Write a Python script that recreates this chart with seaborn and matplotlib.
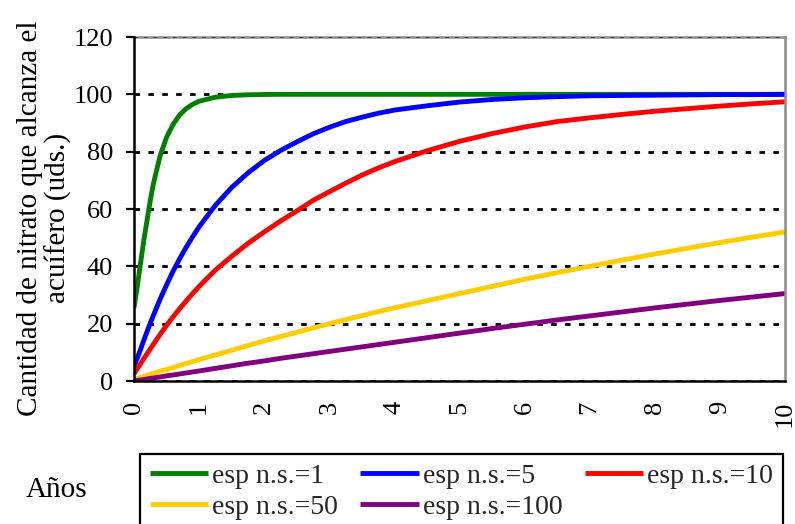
import matplotlib
matplotlib.use("Agg")
import matplotlib.pyplot as plt
import seaborn as sns
import pandas as pd

# Time axis (years) shared by every series
years = [0, 0.05, 0.1, 0.15, 0.2, 0.25, 0.3, 0.4, 0.5, 0.6, 0.7, 0.8, 0.9,
         1.0, 1.25, 1.5, 1.75, 2.0, 2.25, 2.5, 2.75, 3.0, 3.25, 3.5, 3.75,
         4.0, 4.5, 5.0, 5.5, 6.0, 6.5, 7.0, 7.5, 8.0, 8.5, 9.0, 9.5, 10.0]

# Nitrate reaching the aquifer for each unsaturated-zone thickness
esp_1 = [25.5, 33, 41, 49, 56, 63, 69, 78.5, 85, 89.5, 92.8, 95, 96.5,
         97.6, 99, 99.6, 99.85, 99.95, 100, 100, 100, 100, 100, 100, 100,
         100, 100, 100, 100, 100, 100, 100, 100, 100, 100, 100, 100, 100]
esp_5 = [5, 8, 11, 14.2, 17.2, 20.2, 23, 28.5, 33.5, 38.3, 42.6, 46.6, 50.3,
         53.8, 61.3, 67.5, 72.6, 76.9, 80.4, 83.4, 86.2, 88.5, 90.5, 92,
         93.4, 94.5, 96, 97.3, 98.2, 98.8, 99.2, 99.5, 99.6, 99.7, 99.8,
         99.9, 99.9, 100]
esp_10 = [2.5, 4.3, 6, 7.8, 9.5, 11.2, 12.9, 16.2, 19.4, 22.4, 25.2, 27.9,
          30.5, 33, 38.7, 43.5, 48, 52, 55.8, 59.3, 63, 66, 69, 71.8, 74.3,
          76.5, 80.3, 83.6, 86.3, 88.6, 90.5, 91.8, 93, 94.1, 95, 95.9, 96.7,
          97.4]
esp_50 = [0.5, 0.9, 1.2, 1.6, 2, 2.3, 2.7, 3.4, 4, 4.7, 5.4, 6.1, 6.8, 7.5,
          9.1, 10.7, 12.4, 14, 15.5, 17, 18.5, 20, 21.4, 22.8, 24.2, 25.5,
          28, 30.5, 33, 35.5, 37.8, 40, 42.2, 44.3, 46.3, 48.3, 50.2, 52]
esp_100 = [0, 0.2, 0.35, 0.5, 0.7, 0.9, 1.05, 1.4, 1.8, 2.1, 2.45, 2.8, 3.15,
           3.5, 4.4, 5.3, 6.2, 7, 7.9, 8.7, 9.5, 10.3, 11.1, 11.9, 12.7,
           13.5, 15.1, 16.7, 18.3, 19.8, 21.3, 22.7, 24.1, 25.5, 26.8, 28.1,
           29.3, 30.5]

series_names = ["esp n.s.=1", "esp n.s.=5", "esp n.s.=10", "esp n.s.=50",
                "esp n.s.=100"]
series_values = [esp_1, esp_5, esp_10, esp_50, esp_100]
series_colors = ["#008000", "#0000FF", "#FF0000", "#FFCC00", "#800080"]

y_ticks = [0, 20, 40, 60, 80, 100, 120]
x_ticks = [0, 1, 2, 3, 4, 5, 6, 7, 8, 9, 10]

df = pd.concat(
    [pd.DataFrame({"t": years, "v": vals, "serie": name})
     for name, vals in zip(series_names, series_values)],
    ignore_index=True,
)

sns.set_theme(style="white")
plt.rcParams["font.family"] = ["Liberation Serif", "DejaVu Serif"]

fig = plt.figure(figsize=(7.95, 5.24), dpi=100)
ax = fig.add_axes([134 / 795, 143 / 524, 651 / 795, 344 / 524])

sns.lineplot(data=df, x="t", y="v", hue="serie", hue_order=series_names,
             palette=series_colors, linewidth=3.5, legend=False, ax=ax,
             sort=False, estimator=None)
for line in ax.get_lines():
    line.set_solid_capstyle("butt")
    line.set_solid_joinstyle("round")

ax.set_xlim(0, 10)
ax.set_ylim(0, 120)
ax.set_xticks(x_ticks)
ax.set_yticks(y_ticks)
ax.set_xticklabels([str(v) for v in x_ticks], rotation=90, fontsize=19)
ax.set_yticklabels([str(v) for v in y_ticks], fontsize=19)
ax.tick_params(axis="x", length=0, pad=14, colors="black")
ax.tick_params(axis="y", direction="out", length=6, width=1.6, pad=9,
               colors="black", left=True)

# Dotted horizontal grid
ax.grid(False)
ax.yaxis.grid(True, color="black", linewidth=2.0, linestyle=(0, (2, 3)))
ax.set_axisbelow(True)
grid_lines = ax.get_ygridlines()
grid_lines[-1].set_color("#444444")
grid_lines[-1].set_linewidth(1.4)

for side in ("left", "bottom"):
    ax.spines[side].set_color("black")
    ax.spines[side].set_linewidth(1.8)
for side in ("top", "right"):
    ax.spines[side].set_color("#8c8c8c")
    ax.spines[side].set_linewidth(1.8)
ax.spines["top"].set_zorder(0.4)

ax.set_xlabel("")
ax.set_ylabel("Cantidad de nitrato que alcanza el\nacuífero (uds.)",
              fontsize=21, linespacing=1.1, color="black")
ax.yaxis.set_label_coords(-0.095, 0.474)

fig.text(57 / 795, 1 - 490 / 524, "Años", ha="center", va="center",
         fontsize=21, color="black")

# Legend laid out row by row: matplotlib fills columns first
handles = ax.get_lines()[:len(series_names)]
order = [0, 3, 1, 4, 2]
leg = fig.legend([handles[i] for i in order],
                 [series_names[i] for i in order],
                 loc="upper left",
                 bbox_to_anchor=(140 / 795, 1 - 454 / 524), ncol=3,
                 fontsize=20, handlelength=2.1, handletextpad=0.15,
                 columnspacing=0.8, labelspacing=0.2, borderpad=0.35,
                 borderaxespad=0, frameon=True, fancybox=False,
                 edgecolor="black", framealpha=1)
leg.get_frame().set_linewidth(1.6)
for line in leg.get_lines():
    line.set_linewidth(3.5)

fig.savefig("out.png", dpi=100)
